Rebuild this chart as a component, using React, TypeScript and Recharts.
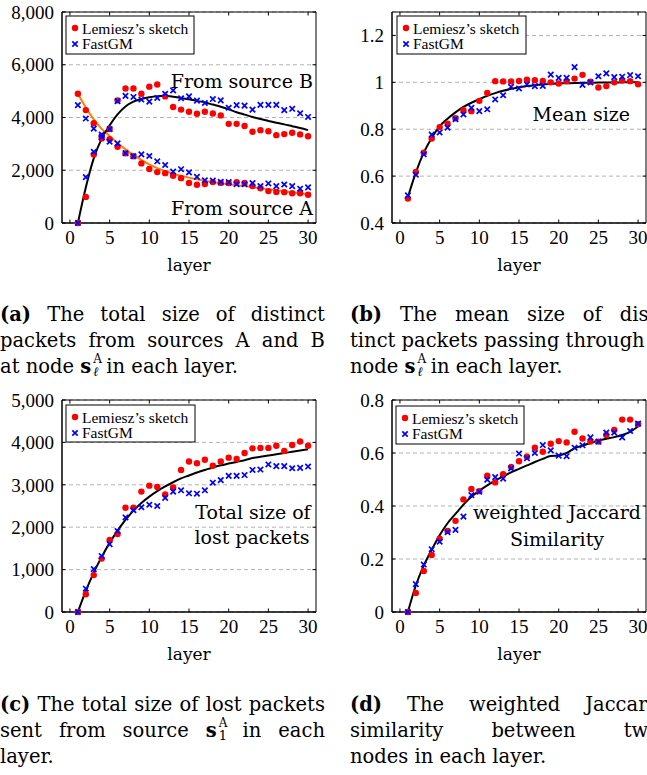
import React from "react"
import {
  CartesianGrid,
  ComposedChart,
  Line,
  ReferenceArea,
  Scatter,
  XAxis,
  YAxis,
} from "recharts"

// layers on the x axis
const layers = [
  1, 2, 3, 4, 5, 6, 7, 8, 9, 10, 11, 12, 13, 14, 15, 16, 17, 18, 19, 20, 21,
  22, 23, 24, 25, 26, 27, 28, 29, 30,
]
const xTicks = [0, 5, 10, 15, 20, 25, 30]

// (a) total size of distinct packets
const lemieszA = [4900, 4280, 3780, 3300, 3180, 2890, 2640, 2530, 2260, 2050, 1930, 1890, 1790, 1700, 1520, 1450, 1480, 1550, 1520, 1510, 1550, 1520, 1400, 1320, 1210, 1180, 1170, 1130, 1130, 1070]
const fastgmA = [4470, 3960, 3580, 3350, 3080, 3020, 2650, 2530, 2600, 2540, 2340, 2200, 1950, 2040, 1920, 1750, 1620, 1610, 1560, 1550, 1470, 1470, 1510, 1400, 1500, 1400, 1460, 1400, 1300, 1350]
const lemieszB = [0, 990, 2600, 3200, 3560, 4650, 5100, 5100, 4900, 5170, 5250, 4800, 4400, 4300, 4220, 4140, 4220, 4150, 4080, 3760, 3760, 3680, 3460, 3520, 3480, 3330, 3370, 3420, 3360, 3290]
const fastgmB = [0, 1740, 2700, 3250, 3560, 4620, 4820, 4780, 4680, 4600, 4740, 4900, 5030, 4730, 4800, 4640, 4550, 4700, 4650, 4370, 4470, 4450, 4300, 4480, 4480, 4480, 4280, 4330, 4160, 4020]
const truthA = [4900, 4380, 3930, 3570, 3300, 3030, 2790, 2580, 2390, 2220, 2080, 1970, 1870, 1790, 1720, 1660, 1600, 1550, 1510, 1470, 1430, 1400, 1360, 1320, 1280, 1240, 1200, 1160, 1130, 1090]
const truthB = [0, 1350, 2450, 3200, 3700, 4120, 4420, 4600, 4700, 4770, 4810, 4820, 4790, 4740, 4690, 4630, 4570, 4490, 4410, 4310, 4200, 4110, 4020, 3940, 3870, 3800, 3740, 3670, 3600, 3520]
const ticksA = [0, 2000, 4000, 6000, 8000]

// (b) mean size
const lemieszMean = [0.504, 0.618, 0.7, 0.76, 0.809, 0.824, 0.847, 0.881, 0.877, 0.921, 0.955, 1.005, 1.004, 1.004, 1.006, 1.011, 1.009, 1.006, 1.0, 0.995, 1.005, 1.016, 1.032, 1.003, 0.978, 0.984, 1.0, 1.008, 1.005, 0.992]
const fastgmMean = [0.518, 0.606, 0.693, 0.777, 0.786, 0.807, 0.843, 0.863, 0.891, 0.877, 0.885, 0.927, 0.945, 0.981, 0.974, 0.991, 0.984, 0.985, 1.033, 1.019, 1.019, 1.065, 0.989, 1.0, 1.026, 1.038, 1.022, 1.024, 1.031, 1.026]
const truthMean = [0.51, 0.615, 0.7, 0.763, 0.812, 0.845, 0.872, 0.895, 0.913, 0.928, 0.942, 0.954, 0.964, 0.972, 0.979, 0.984, 0.988, 0.991, 0.993, 0.995, 0.996, 0.997, 0.998, 0.998, 0.999, 0.999, 0.999, 1.0, 1.0, 1.0]
const ticksMean = [0.4, 0.6, 0.8, 1, 1.2]

// (c) total size of lost packets
const lemieszLost = [0, 420, 870, 1260, 1700, 1840, 2460, 2460, 2840, 2980, 2950, 2770, 2940, 3350, 3550, 3510, 3590, 3450, 3550, 3640, 3610, 3750, 3860, 3870, 3870, 3920, 3800, 3940, 4020, 3920]
const fastgmLost = [0, 550, 1010, 1320, 1600, 1910, 2230, 2400, 2470, 2530, 2500, 2690, 2840, 2870, 2800, 2790, 2870, 3050, 3110, 3210, 3210, 3230, 3350, 3360, 3480, 3440, 3440, 3390, 3400, 3430]
const truthLost = [0, 500, 930, 1300, 1630, 1920, 2170, 2390, 2570, 2720, 2850, 2960, 3060, 3150, 3220, 3290, 3350, 3410, 3460, 3500, 3540, 3580, 3630, 3660, 3690, 3720, 3750, 3780, 3810, 3840]
const ticksLost = [0, 1000, 2000, 3000, 4000, 5000]

// (d) weighted Jaccard similarity
const lemieszJac = [0, 0.072, 0.155, 0.215, 0.277, 0.306, 0.344, 0.425, 0.464, 0.456, 0.514, 0.489, 0.52, 0.547, 0.569, 0.586, 0.62, 0.605, 0.635, 0.645, 0.64, 0.68, 0.655, 0.643, 0.643, 0.668, 0.687, 0.726, 0.726, 0.709]
const fastgmJac = [0, 0.105, 0.179, 0.237, 0.265, 0.301, 0.31, 0.36, 0.441, 0.454, 0.499, 0.509, 0.503, 0.542, 0.598, 0.58, 0.6, 0.63, 0.61, 0.59, 0.588, 0.62, 0.629, 0.659, 0.643, 0.677, 0.677, 0.659, 0.683, 0.711]
const truthJac = [0, 0.1, 0.175, 0.235, 0.29, 0.335, 0.37, 0.405, 0.435, 0.458, 0.478, 0.496, 0.512, 0.527, 0.54, 0.553, 0.566, 0.578, 0.589, 0.591, 0.6, 0.618, 0.628, 0.638, 0.647, 0.654, 0.66, 0.668, 0.68, 0.7]
const ticksJac = [0, 0.2, 0.4, 0.6, 0.8]

const RED = "#ff0000"
const BLUE = "#0000ff"
const ORANGE = "#ff8000"
const TICK_FONT = "Liberation Serif"
const TEXT_FONT = "DejaVu Serif"
const PLOT_W = 254
const TICK_LEN = 3.5

type Row = Record<string, number>

function buildRows(cols: Record<string, number[]>): Row[] {
  return layers.map((layer, i) => {
    const row: Row = { layer }
    Object.keys(cols).forEach((k) => {
      row[k] = cols[k][i]
    })
    return row
  })
}

function RedDot(props: any) {
  const { cx, cy } = props
  if (cx == null || cy == null) return <g />
  return <circle cx={cx} cy={cy} r={3.2} fill={RED} />
}

function BlueCross(props: any) {
  const { cx, cy } = props
  if (cx == null || cy == null) return <g />
  const s = 2.7
  return (
    <path
      d={`M${cx - s},${cy - s}L${cx + s},${cy + s}M${cx - s},${cy + s}L${cx + s},${cy - s}`}
      stroke={BLUE}
      strokeWidth={1.7}
      fill="none"
    />
  )
}

// x tick: label plus inward marks on bottom and top edges
function makeXTick(plotHeight: number) {
  return function XTick(props: any) {
    const { x, y, payload } = props
    const base = y - 8
    const topEdge = base - plotHeight
    return (
      <g>
        <line x1={x} x2={x} y1={base} y2={base - TICK_LEN} stroke="#000" />
        <line x1={x} x2={x} y1={topEdge} y2={topEdge + TICK_LEN} stroke="#000" />
        <text x={x} y={y} dy="0.71em" textAnchor="middle" fill="#000" fontSize={19} fontFamily={TICK_FONT}>
          {payload.value}
        </text>
      </g>
    )
  }
}

// y tick: label plus inward marks on left and right edges
function makeYTick(format: (v: number) => string) {
  return function YTick(props: any) {
    const { x, y, payload } = props
    const edge = x + 8
    return (
      <g>
        <line x1={edge} x2={edge + TICK_LEN} y1={y} y2={y} stroke="#000" />
        <line x1={edge + PLOT_W} x2={edge + PLOT_W - TICK_LEN} y1={y} y2={y} stroke="#000" />
        <text x={x} y={y} dy="0.355em" textAnchor="end" fill="#000" fontSize={19} fontFamily={TICK_FONT}>
          {format(payload.value)}
        </text>
      </g>
    )
  }
}

type PanelProps = {
  left: number
  top: number
  plotHeight: number
  rows: Row[]
  dots: string[]
  crosses: string[]
  curves: { key: string; color: string }[]
  domain: [number, number]
  ticks: number[]
  format: (v: number) => string
}

function Panel({ left, top, plotHeight, rows, dots, crosses, curves, domain, ticks, format }: PanelProps) {
  return (
    <div style={{ position: "absolute", left, top }}>
      <ComposedChart
        width={330}
        height={12 + plotHeight + 62}
        data={rows}
        margin={{ top: 12, right: 14, bottom: 0, left: 0 }}
      >
        <CartesianGrid vertical={false} stroke="#b4b4b4" strokeDasharray="4 3" />
        <XAxis
          dataKey="layer"
          type="number"
          domain={[-1, 31]}
          ticks={xTicks}
          interval={0}
          height={62}
          tickLine={false}
          tickSize={0}
          tickMargin={8}
          axisLine={{ stroke: "#000" }}
          tick={makeXTick(plotHeight)}
          label={{ value: "layer", position: "insideBottom", offset: 14, fill: "#000", fontSize: 17, fontFamily: TEXT_FONT }}
        />
        <YAxis
          type="number"
          domain={domain}
          ticks={ticks}
          interval={0}
          width={62}
          tickLine={false}
          tickSize={0}
          tickMargin={8}
          axisLine={{ stroke: "#000" }}
          tick={makeYTick(format)}
        />
        <ReferenceArea
          x1={-1}
          x2={31}
          y1={domain[0]}
          y2={domain[1]}
          fill="none"
          stroke="#000"
          strokeWidth={1}
          ifOverflow="visible"
        />
        {dots.map((k) => (
          <Scatter key={k} data={rows} dataKey={k} shape={RedDot} isAnimationActive={false} />
        ))}
        {crosses.map((k) => (
          <Scatter key={k} data={rows} dataKey={k} shape={BlueCross} isAnimationActive={false} />
        ))}
        {curves.map((c) => (
          <Line
            key={c.key}
            dataKey={c.key}
            type="monotone"
            stroke={c.color}
            strokeWidth={2}
            dot={false}
            isAnimationActive={false}
          />
        ))}
      </ComposedChart>
    </div>
  )
}

function LegendBox({ x, y, w, h }: { x: number; y: number; w: number; h: number }) {
  return (
    <g>
      <rect x={x} y={y} width={w} height={h} fill="#fff" stroke="#000" strokeWidth={1} />
      <circle cx={x + 9} cy={y + 12} r={3.2} fill={RED} />
      <BlueCross cx={x + 9} cy={y + 28} />
      <text x={x + 16} y={y + 17.5} fontSize={15.5} fontFamily={TICK_FONT} fill="#000">
        Lemiesz’s sketch
      </text>
      <text x={x + 16} y={y + 33} fontSize={15.5} fontFamily={TICK_FONT} fill="#000">
        FastGM
      </text>
    </g>
  )
}

// bold s with a stacked superscript and subscript
function Sym({ sup, sub, subItalic }: { sup: string; sub: string; subItalic?: boolean }) {
  return (
    <span style={{ position: "relative", display: "inline-block", paddingRight: 9 }}>
      <b>s</b>
      <span style={{ position: "absolute", left: 13, top: 11, fontSize: 13, lineHeight: "13px", fontStyle: subItalic ? "italic" : "normal" }}>
        {sub}
      </span>
      <span style={{ position: "absolute", left: 13, top: -1, fontSize: 12, lineHeight: "12px" }}>{sup}</span>
    </span>
  )
}

function Justified({ words, width }: { words: React.ReactNode[]; width: number }) {
  return (
    <div style={{ display: "flex", justifyContent: "space-between", width, height: 26, whiteSpace: "nowrap" }}>
      {words.map((w, i) => (
        <span key={i}>{w}</span>
      ))}
    </div>
  )
}

type CaptionProps = {
  left: number
  top: number
  width: number
  justified: React.ReactNode[][]
  plain: React.ReactNode[]
}

function Caption({ left, top, width, justified, plain }: CaptionProps) {
  return (
    <div style={{ position: "absolute", left, top, fontFamily: TEXT_FONT, fontSize: 19.5, lineHeight: "26px", color: "#000" }}>
      {justified.map((l, i) => (
        <Justified key={i} words={l} width={width} />
      ))}
      {plain.map((p, i) => (
        <div key={i} style={{ height: 26, whiteSpace: "nowrap" }}>
          {p}
        </div>
      ))}
    </div>
  )
}

const thousands = (v: number) => v.toLocaleString("en-US")
const decimal = (v: number) => String(Math.round(v * 10) / 10)

export default function App() {
  const rowsA = buildRows({ lemieszA, fastgmA, lemieszB, fastgmB, truthA, truthB })
  const rowsMean = buildRows({ lemieszMean, fastgmMean, truthMean })
  const rowsLost = buildRows({ lemieszLost, fastgmLost, truthLost })
  const rowsJac = buildRows({ lemieszJac, fastgmJac, truthJac })

  return (
    <div
      style={{
        position: "absolute",
        left: 0,
        top: 0,
        width: 647,
        height: 775,
        overflow: "hidden",
        background: "#fff",
      }}
    >
      <Panel
        left={0}
        top={0}
        plotHeight={211}
        rows={rowsA}
        dots={["lemieszA", "lemieszB"]}
        crosses={["fastgmA", "fastgmB"]}
        curves={[
          { key: "truthA", color: ORANGE },
          { key: "truthB", color: "#000" },
        ]}
        domain={[0, 8000]}
        ticks={ticksA}
        format={thousands}
      />
      <Panel
        left={330}
        top={0}
        plotHeight={211}
        rows={rowsMean}
        dots={["lemieszMean"]}
        crosses={["fastgmMean"]}
        curves={[{ key: "truthMean", color: "#000" }]}
        domain={[0.4, 1.3]}
        ticks={ticksMean}
        format={decimal}
      />
      <Panel
        left={0}
        top={388}
        plotHeight={212}
        rows={rowsLost}
        dots={["lemieszLost"]}
        crosses={["fastgmLost"]}
        curves={[{ key: "truthLost", color: "#000" }]}
        domain={[0, 5000]}
        ticks={ticksLost}
        format={thousands}
      />
      <Panel
        left={330}
        top={388}
        plotHeight={212}
        rows={rowsJac}
        dots={["lemieszJac"]}
        crosses={["fastgmJac"]}
        curves={[{ key: "truthJac", color: "#000" }]}
        domain={[0, 0.8]}
        ticks={ticksJac}
        format={decimal}
      />

      <svg
        width={647}
        height={775}
        style={{ position: "absolute", left: 0, top: 0, pointerEvents: "none" }}
      >
        <LegendBox x={66} y={16} w={128} h={38} />
        <LegendBox x={397} y={16} w={129} h={38} />
        <LegendBox x={66} y={405} w={129} h={37} />
        <LegendBox x={396} y={406} w={128} h={38} />
        <g fontFamily={TEXT_FONT} fontSize={19} fill="#000">
          <text x={313} y={88} textAnchor="end">From source B</text>
          <text x={313} y={215} textAnchor="end">From source A</text>
          <text x={630} y={121} textAnchor="end">Mean size</text>
          <text x={253} y={519} textAnchor="middle">Total size of</text>
          <text x={252} y={544} textAnchor="middle">lost packets</text>
          <text x={557} y={519} textAnchor="middle">weighted Jaccard</text>
          <text x={557} y={546} textAnchor="middle">Similarity</text>
        </g>
      </svg>

      <Caption
        left={0}
        top={302}
        width={325}
        justified={[
          [<b>(a)</b>, "The", "total", "size", "of", "distinct"],
          ["packets", "from", "sources", "A", "and", "B"],
        ]}
        plain={[
          <span>
            at node <Sym sup="A" sub="ℓ" subItalic /> in each layer.
          </span>,
        ]}
      />
      <Caption
        left={350}
        top={302}
        width={305}
        justified={[[<b>(b)</b>, "The", "mean", "size", "of", "dis-"]]}
        plain={[
          <span>tinct packets passing through</span>,
          <span>
            node <Sym sup="A" sub="ℓ" subItalic /> in each layer.
          </span>,
        ]}
      />
      <Caption
        left={0}
        top={692}
        width={325}
        justified={[
          [<b>(c)</b>, "The", "total", "size", "of", "lost", "packets"],
          ["sent", "from", "source", <Sym sup="A" sub="1" />, "in", "each"],
        ]}
        plain={[<span>layer.</span>]}
      />
      <Caption
        left={350}
        top={692}
        width={310}
        justified={[
          [<b>(d)</b>, "The", "weighted", "Jaccard"],
          ["similarity", "between", "two"],
        ]}
        plain={[<span>nodes in each layer.</span>]}
      />
    </div>
  )
}
